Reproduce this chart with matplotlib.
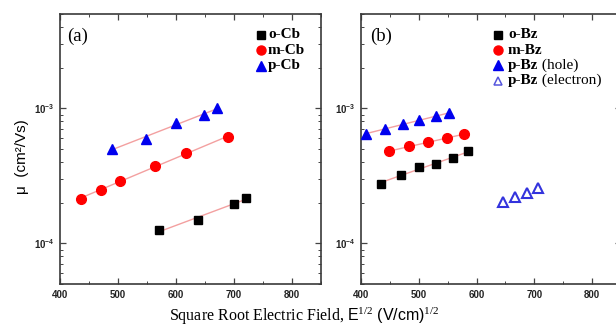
import numpy as np
import matplotlib
matplotlib.use("Agg")
import matplotlib.pyplot as plt
from matplotlib.ticker import LogLocator, FixedLocator, MultipleLocator, FuncFormatter, NullFormatter

plt.rcParams['mathtext.fontset'] = 'custom'
plt.rcParams['mathtext.rm'] = 'Liberation Serif'
plt.rcParams['mathtext.it'] = 'Liberation Serif:italic'
plt.rcParams['mathtext.bf'] = 'Liberation Sans:bold'
plt.rcParams['mathtext.sf'] = 'Liberation Sans'

# ---- data, panel (a) ----
oCb_x = [571, 638, 700, 721]
oCb_y = [1.25e-4, 1.50e-4, 1.95e-4, 2.18e-4]
mCb_x = [436, 471, 503, 564, 617, 690]
mCb_y = [2.14e-4, 2.50e-4, 2.89e-4, 3.74e-4, 4.70e-4, 6.10e-4]
pCb_x = [489, 548, 600, 648, 671]
pCb_y = [5.03e-4, 5.89e-4, 7.83e-4, 8.98e-4, 1.0e-3]

# ---- data, panel (b) ----
oBz_x = [435, 469, 501, 530, 560, 586]
oBz_y = [2.77e-4, 3.23e-4, 3.66e-4, 3.89e-4, 4.28e-4, 4.80e-4]
mBz_x = [448, 483, 516, 549, 578]
mBz_y = [4.80e-4, 5.23e-4, 5.62e-4, 6.00e-4, 6.45e-4]
pBzh_x = [409, 442, 472, 501, 529, 553]
pBzh_y = [6.50e-4, 6.99e-4, 7.70e-4, 8.15e-4, 8.77e-4, 9.23e-4]
pBze_x = [645, 667, 687, 707]
pBze_y = [2.02e-4, 2.20e-4, 2.36e-4, 2.59e-4]

xticks = [400, 500, 600, 700, 800]
xlim = (400, 850)
ylim = (5e-5, 5e-3)

fig = plt.figure(figsize=(6.16, 3.27), dpi=100)
axA = fig.add_axes([60/616, 1-284/327, 261/616, 270/327])
axB = fig.add_axes([361/616, 1-284/327, 260/616, 270/327])

FIT = '#f3a0a0'

def fit_line(ax, x, y):
    x = np.asarray(x, float); y = np.asarray(y, float)
    p = np.polyfit(x, np.log10(y), 1)
    xx = np.array([x.min(), x.max()])
    ax.plot(xx, 10**np.polyval(p, xx), color=FIT, lw=1.0, zorder=1)

def style(ax):
    ax.set_yscale('log')
    ax.set_xlim(*xlim)
    ax.set_ylim(*ylim)
    ax.xaxis.set_major_locator(FixedLocator(xticks))
    ax.xaxis.set_minor_locator(MultipleLocator(50))
    ax.yaxis.set_major_locator(LogLocator(base=10, numticks=10))
    ax.yaxis.set_minor_locator(LogLocator(base=10, subs=np.arange(2, 10), numticks=10))
    ax.yaxis.set_minor_formatter(NullFormatter())
    def yfmt(v, pos):
        e = int(round(np.log10(v)))
        return r'$\mathbf{10^{%d}}$' % e
    ax.yaxis.set_major_formatter(FuncFormatter(yfmt))
    ax.tick_params(which='both', direction='in', top=True, right=True, color='#444444')
    ax.tick_params(which='major', length=4, width=0.9, labelsize=7, pad=4)
    ax.tick_params(which='minor', length=2.5, width=0.7)
    for lab in ax.get_xticklabels() + ax.get_yticklabels():
        lab.set_fontfamily('Liberation Sans')
        lab.set_fontweight('bold')
        lab.set_color('#222222')
    for s in ax.spines.values():
        s.set_color('#3a3a3a')
        s.set_linewidth(1.2)

style(axA)
style(axB)

# panel (a)
fit_line(axA, oCb_x, oCb_y)
fit_line(axA, mCb_x, mCb_y)
fit_line(axA, pCb_x, pCb_y)
axA.plot(oCb_x, oCb_y, 's', color='black', ms=6.3, ls='none', zorder=3)
axA.plot(mCb_x, mCb_y, 'o', color='#ff0000', ms=7, ls='none', zorder=3)
axA.plot(pCb_x, pCb_y, '^', color='#0000ee', ms=7, ls='none', zorder=3)

# panel (b)
fit_line(axB, oBz_x, oBz_y)
fit_line(axB, mBz_x, mBz_y)
fit_line(axB, pBzh_x, pBzh_y)
axB.plot(oBz_x, oBz_y, 's', color='black', ms=6.3, ls='none', zorder=3)
axB.plot(mBz_x, mBz_y, 'o', color='#ff0000', ms=7, ls='none', zorder=3)
axB.plot(pBzh_x, pBzh_y, '^', color='#0000ee', ms=7, ls='none', zorder=3)
axB.plot(pBze_x, pBze_y, '^', mfc='none', mec='#3333dd', mew=1.5, ms=6.5, ls='none', zorder=3)

# panel labels
axA.text(7/261, 1-22/270, '(a)', transform=axA.transAxes, fontsize=13.5,
         family='Liberation Serif', va='center', ha='left')
axB.text(9/260, 1-22/270, '(b)', transform=axB.transAxes, fontsize=13.5,
         family='Liberation Serif', va='center', ha='left')

def legend(ax, x0, y0, dy, entries, axw, gap):
    for i, (m, kw, name, suffix) in enumerate(entries):
        y = y0 - i * dy
        ax.plot([x0], [y], m, transform=ax.transAxes, ls='none', clip_on=False, **kw)
        t = ax.text(x0 + gap/axw, y, name, transform=ax.transAxes, fontsize=11,
                    family='Liberation Serif', weight='bold', va='center', ha='left')
        if suffix:
            ax.annotate(' ' + suffix, xy=(1, 0.5), xycoords=t, fontsize=11,
                        family='Liberation Serif', va='center', ha='left')

sq = dict(color='black', ms=5.5)
ci = dict(color='#ff0000', ms=6.5)
tr = dict(color='#0000ee', ms=6.5)
otr = dict(mfc='none', mec='#5555dd', mew=1.1, ms=6)

legend(axA, (261-60)/261, 1-(35-14)/270, 15.5/270,
       [('s', sq, 'o-Cb', None), ('o', ci, 'm-Cb', None), ('^', tr, 'p-Cb', None)], 261, 7)
legend(axB, (498-361)/260, 1-(35-14)/270, 15.2/270,
       [('s', sq, 'o-Bz', None), ('o', ci, 'm-Bz', None),
        ('^', tr, 'p-Bz', '(hole)'), ('^', otr, 'p-Bz', '(electron)')], 260, 10)

axA.set_ylabel('μ  (cm²/Vs)', family='Liberation Sans', fontsize=11)
axA.yaxis.set_label_coords(-0.12, 0.47)

fig.text(304/616, 1-316/327,
         r'Square Root Electric Field, $\mathsf{E}^{1/2}$ $\mathsf{(V/cm)}^{1/2}$',
         family='Liberation Serif', fontsize=11.5, ha='center', va='center')

fig.savefig('out.png', dpi=100)
